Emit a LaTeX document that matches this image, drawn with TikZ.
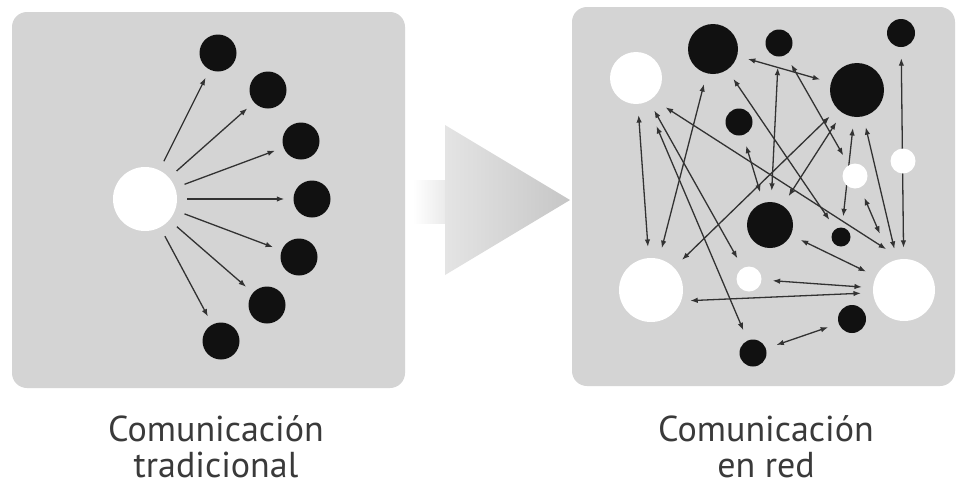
\documentclass[tikz,border=0pt]{standalone}
\usepackage{fontspec}
\setmainfont{PT Sans}
\usetikzlibrary{arrows.meta}
\pgfdeclarelayer{bg}
\pgfdeclarelayer{edges}
\pgfsetlayers{bg,edges,main}
\definecolor{panel}{RGB}{212,212,212}
\definecolor{ink}{RGB}{17,17,17}
\definecolor{edgec}{RGB}{50,50,50}
\definecolor{txt}{RGB}{58,58,58}
\definecolor{arrL}{RGB}{228,228,228}
\definecolor{arrR}{RGB}{198,198,198}
\definecolor{shaftR}{RGB}{234,234,234}
\begin{document}
\begin{tikzpicture}[x=1pt,y=-1pt,
  wdot/.style={circle,fill=white,draw=none,inner sep=0pt,minimum size=#1},
  bdot/.style={circle,fill=ink,draw=none,inner sep=0pt,minimum size=#1},
  tipa/.tip={Latex[length=7.5pt,width=5.5pt]},
  link/.style={draw=edgec,line width=1.3pt,-tipa,shorten >=9pt,shorten <=10pt},
  dlink/.style={draw=edgec,line width=1.3pt,tipa-tipa,shorten >=11pt,shorten <=11pt},
  panelbox/.style={fill=panel,rounded corners=15pt},
  lbl/.style={font=\fontsize{36}{40}\selectfont,text=txt,inner sep=0pt,anchor=base}]
\useasboundingbox (0,0) rectangle (957,488);
\begin{pgfonlayer}{bg}
  \fill[white] (0,0) rectangle (957,488);
  \path[panelbox] (12,12) rectangle (405,388);
  \path[panelbox] (572,7) rectangle (955,386);
  % big arrow
  \shade[left color=white,right color=shaftR] (413,180) rectangle (446,223);
  \shade[left color=arrL,right color=arrR] (445,125) -- (570,200) -- (445,275) -- cycle;
\end{pgfonlayer}

% left panel
\node[wdot=64pt] (c0) at (145,199) {};
\node[bdot=37pt] (l1) at (218,53) {};
\node[bdot=37pt] (l2) at (268,90) {};
\node[bdot=37pt] (l3) at (301,141) {};
\node[bdot=37pt] (l4) at (312,199) {};
\node[bdot=37pt] (l5) at (299,257) {};
\node[bdot=37pt] (l6) at (267,305) {};
\node[bdot=37pt] (l7) at (221,341) {};
\begin{pgfonlayer}{edges}
  \foreach \t in {l1,l2,l3,l4,l5,l6,l7} \draw[link] (c0) -- (\t);
\end{pgfonlayer}

% right panel
\node[wdot=52pt] (wtl) at (636,78) {};
\node[bdot=50pt] (bb1) at (713,49) {};
\node[bdot=27pt] (bs1) at (739,122) {};
\node[bdot=27pt] (bs2) at (779,43) {};
\node[bdot=54pt] (bb2) at (857,90) {};
\node[bdot=28pt] (btr) at (901,33) {};
\node[wdot=25pt] (ws3) at (903,161) {};
\node[wdot=25pt] (ws2) at (855,176) {};
\node[bdot=46pt] (bc) at (770,225) {};
\node[bdot=19pt] (bs3) at (841,237) {};
\node[wdot=64pt] (wl) at (651,290) {};
\node[wdot=25pt] (ws1) at (749,279) {};
\node[wdot=62pt] (wr) at (904,290) {};
\node[bdot=27pt] (bbot) at (753,353) {};
\node[bdot=28pt] (br) at (852,319) {};
\begin{pgfonlayer}{edges}
  \draw[dlink] (bb1) -- (bb2);
  \draw[dlink] (bb1) -- (wl);
  \draw[dlink] (wl) -- (bb2);
  \draw[dlink] (wtl) -- (wl);
  \draw[dlink,shorten <=16pt,shorten >=18pt] (wtl.-52) -- (wr.95);
  \draw[dlink] (wtl) -- (ws1);
  \draw[dlink,shorten <=26pt] (wtl) -- (bbot);
  \draw[dlink] (bs1) -- (bc);
  \draw[dlink] (bs2) -- (bc);
  \draw[dlink] (bc) -- (bb2);
  \draw[dlink] (bs2) -- (ws2);
  \draw[dlink] (bb2) -- (bs3);
  \draw[dlink,shorten >=30pt] (ws2) -- (wr);
  \draw[dlink] (bb2) -- (wr);
  \draw[dlink] (btr) -- (wr);
  \draw[dlink] (bc) -- (wr);
  \draw[dlink] (ws1) -- (wr);
  \draw[dlink,shorten <=9pt,shorten >=12pt] (wl.-20) -- (wr.185);
  \draw[dlink] (bbot) -- (br);
  \draw[dlink] (bb1) -- (bs3);
\end{pgfonlayer}

% labels
\node[lbl] (t1a) at (216,441) {Comunicación};
\node[lbl] (t1b) at (216,477) {tradicional};
\node[lbl] (t2a) at (766,441) {Comunicación};
\node[lbl] (t2b) at (766,477) {en red};
\end{tikzpicture}
\end{document}
